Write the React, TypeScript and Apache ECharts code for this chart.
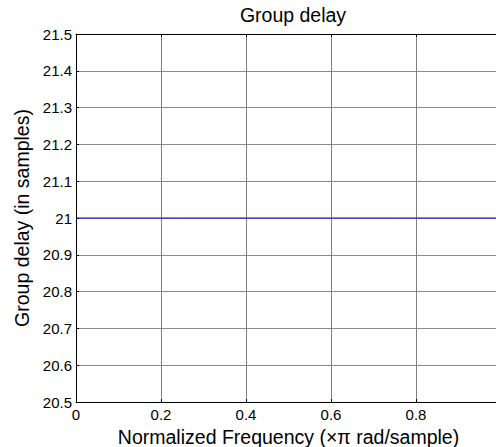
import React, { useEffect, useRef } from "react";
import * as echarts from "echarts";

const frequency = [0, 0.25, 0.5, 0.75, 1];
const groupDelay = [21, 21, 21, 21, 21];
const xTicks = [0, 0.2, 0.4, 0.6, 0.8, 1];
const yTicks = [20.5, 20.6, 20.7, 20.8, 20.9, 21, 21.1, 21.2, 21.3, 21.4, 21.5];

const FONT = "'Liberation Sans', Arial, sans-serif";

export default function App() {
  const ref = useRef<HTMLDivElement>(null);
  useEffect(() => {
    if (!ref.current) return;
    const chart = echarts.init(ref.current, null, { renderer: "svg" });
    const fmt = (v: number) => {
      const s = Math.round(v * 10) / 10;
      return String(s);
    };
    chart.setOption({
      animation: false,
      backgroundColor: "#ffffff",
      textStyle: { fontFamily: FONT },
      title: {
        text: "Group delay",
        left: 288,
        top: 0,
        textAlign: "center",
        textStyle: { fontFamily: FONT, fontSize: 19.5, fontWeight: "normal", color: "#000" },
      },
      grid: {
        left: 76,
        top: 34,
        right: 9,
        bottom: 45,
        containLabel: false,
        outerBoundsMode: "none",
      },
      xAxis: [
        {
          type: "value",
          min: xTicks[0],
          max: xTicks[xTicks.length - 1],
          interval: 0.2,
          name: "Normalized Frequency (×π rad/sample)",
          nameLocation: "middle",
          nameGap: 17,
          nameTextStyle: { fontFamily: FONT, fontSize: 19.5, color: "#000" },
          axisLine: { show: true, onZero: false, lineStyle: { color: "#000", width: 1 } },
          axisTick: { show: true, inside: true, length: 3, lineStyle: { color: "#000" } },
          axisLabel: {
            fontFamily: FONT,
            fontSize: 15,
            color: "#000",
            margin: 5,
            formatter: fmt,
            showMaxLabel: false,
          },
          splitLine: { show: true, lineStyle: { color: "#808080", width: 1 } },
        },
        {
          type: "value",
          position: "top",
          min: xTicks[0],
          max: xTicks[xTicks.length - 1],
          interval: 0.2,
          axisLine: { show: true, onZero: false, lineStyle: { color: "#000", width: 1 } },
          axisTick: { show: true, inside: true, length: 3, lineStyle: { color: "#000" } },
          axisLabel: { show: false },
          splitLine: { show: false },
        },
      ],
      yAxis: {
        type: "value",
        min: yTicks[0],
        max: yTicks[yTicks.length - 1],
        interval: 0.1,
        name: "Group delay (in samples)",
        nameLocation: "middle",
        nameGap: 38,
        nameTextStyle: { fontFamily: FONT, fontSize: 19.5, color: "#000" },
        axisLine: { show: true, onZero: false, lineStyle: { color: "#000", width: 1 } },
        axisTick: { show: true, inside: true, length: 3, lineStyle: { color: "#000" } },
        axisLabel: { fontFamily: FONT, fontSize: 15, color: "#000", margin: 4, formatter: fmt },
        splitLine: { show: true, lineStyle: { color: "#8c8c8c", width: 1 } },
      },
      series: [
        {
          type: "line",
          data: frequency.map((f, i) => [f, groupDelay[i]]),
          showSymbol: false,
          lineStyle: { color: "#0000ff", width: 1 },
          itemStyle: { color: "#0000ff" },
        },
      ],
    });
    return () => chart.dispose();
  }, []);
  return (
    <div
      ref={ref}
      style={{ position: "fixed", left: 0, top: 0, width: 510, height: 447 }}
    />
  );
}
